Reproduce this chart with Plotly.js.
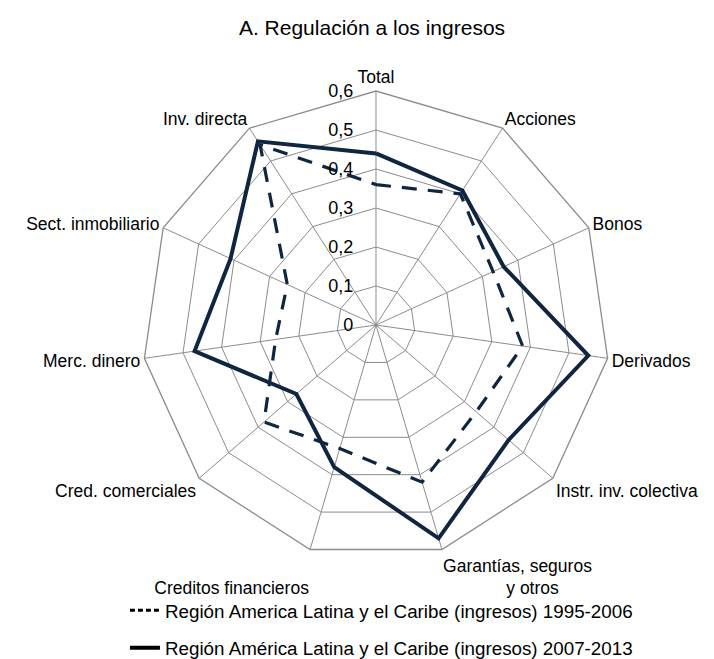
<!DOCTYPE html>
<html>
<head>
<meta charset="utf-8">
<script src="https://cdn.plot.ly/plotly-3.0.1.min.js"></script>
<style>html,body{margin:0;padding:0;background:#fff;}#chart{width:714px;height:659px;}</style>
</head>
<body>
<div id="chart"></div>
<script>
const categories = ["Total", "Acciones", "Bonos", "Derivados", "Instr. inv. colectiva",
  "Garantías, seguros<br>\u00a0\u00a0\u00a0\u00a0\u00a0\u00a0\u00a0\u00a0\u00a0\u00a0\u00a0\u00a0\u00a0y otros",
  "<br>Creditos financieros", "Cred. comerciales",
  "Merc. dinero", "Sect. inmobiliario", "Inv. directa"];
const series1995 = [0.36, 0.40, 0.33, 0.38, 0.34, 0.42, 0.33, 0.38, 0.26, 0.25, 0.55];
const series2007 = [0.44, 0.41, 0.36, 0.55, 0.45, 0.57, 0.38, 0.27, 0.47, 0.41, 0.56];
const name1995 = "Región America Latina y el Caribe (ingresos) 1995-2006";
const name2007 = "Región América Latina y el Caribe (ingresos) 2007-2013";
const tickVals = [0, 0.1, 0.2, 0.3, 0.4, 0.5, 0.6];
const tickText = ["0", "0,1", "0,2", "0,3", "0,4", "0,5", "0,6"];

const close = a => a.concat([a[0]]);
const color = "#10253f";
const font = "Liberation Sans, Arial, sans-serif";

const traces = [
  {type: "scatterpolar", mode: "lines", r: close(series1995), theta: close(categories),
   name: name1995, showlegend: false, line: {color: color, width: 3.2, dash: "15px,11px"}},
  {type: "scatterpolar", mode: "lines", r: close(series2007), theta: close(categories),
   name: name2007, showlegend: false, line: {color: color, width: 4}},
  // legend keys for the two series
  {type: "scatterpolar", mode: "lines", r: [null], theta: [categories[0]],
   name: name1995, legendgroup: "a", line: {color: "#000", width: 3, dash: "5px,3px"}},
  {type: "scatterpolar", mode: "lines", r: [null], theta: [categories[0]],
   name: name2007, legendgroup: "b", line: {color: "#000", width: 4}}
];

const layout = {
  width: 714, height: 659,
  margin: {l: 0, r: 0, t: 0, b: 0, autoexpand: false},
  paper_bgcolor: "#fff",
  font: {family: font, size: 18, color: "#000"},
  title: {text: "A. Regulación a los ingresos", x: 0.521, xanchor: "center", y: 0.9575, yanchor: "middle",
          font: {family: font, size: 21, color: "#000"}},
  showlegend: true,
  legend: {orientation: "v", x: 0.175, xanchor: "left", y: 0.0455, yanchor: "middle",
           font: {family: font, size: 18.8, color: "#000"}, itemwidth: 30, tracegroupgap: 10,
           bgcolor: "rgba(0,0,0,0)"},
  polar: {
    domain: {x: [0.1989, 0.8543], y: [0.1517, 0.8619]},
    gridshape: "linear",
    bgcolor: "#fff",
    angularaxis: {rotation: 90, direction: "clockwise", type: "category",
      showline: true, linecolor: "#8c8c8c", linewidth: 1.3,
      gridcolor: "#8c8c8c", gridwidth: 1.3, ticks: "",
      tickfont: {family: font, size: 17.5, color: "#000"}},
    radialaxis: {range: [0, 0.6], angle: 90, tickangle: 90, side: "counterclockwise",
      tickvals: tickVals, ticktext: tickText, showline: false,
      ticks: "outside", ticklen: 16, tickcolor: "rgba(0,0,0,0)",
      gridcolor: "#8c8c8c", gridwidth: 1.3,
      tickfont: {family: font, size: 18, color: "#000"}}
  }
};

Plotly.newPlot("chart", traces, layout, {displayModeBar: false});
</script>
</body>
</html>
